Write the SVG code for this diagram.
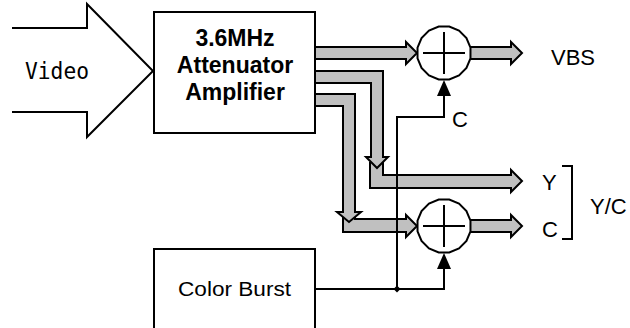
<svg xmlns="http://www.w3.org/2000/svg" xmlns:xlink="http://www.w3.org/1999/xlink" width="630" height="328" viewBox="0 0 630 328">
<style>
.box{fill:#fff;stroke:#000;stroke-width:2}
.pipe{fill:#c0c0c0;stroke:#000;stroke-width:2;stroke-linejoin:miter}
.pfill{fill:#c0c0c0;stroke:none}
.wall{fill:none;stroke:#000;stroke-width:2}
.line{fill:none;stroke:#000;stroke-width:2}
.head{fill:#000;stroke:none}
.sum{fill:#fff;stroke:#000;stroke-width:2}
.lbl{font-family:"Liberation Sans",Arial,sans-serif;font-size:22px;fill:#000}
.bold{font-family:"Liberation Sans",Arial,sans-serif;font-size:23px;font-weight:bold;fill:#000;text-anchor:middle}
</style>
<defs>
<polygon id="poly16" points="26.48,5.27 22.45,15 15,22.45 5.27,26.48 -5.27,26.48 -15,22.45 -22.45,15 -26.48,5.27 -26.48,-5.27 -22.45,-15 -15,-22.45 -5.27,-26.48 5.27,-26.48 15,-22.45 22.45,-15 26.48,-5.27"/>
</defs>

<g id="video">
<path class="line" d="M12,28 H87 V4 L153,71 L87,137 V112 H12"/>
<text x="25" y="79" font-family="'DejaVu Sans Mono','Liberation Mono',monospace" font-size="23" textLength="64" lengthAdjust="spacingAndGlyphs">Video</text>
</g>

<g id="connectors">
<!-- pipe A to sum 1 -->
<polygon class="pipe" points="315,47 406,47 406,42 417,53 406,64 406,59 315,59"/>
<!-- VBS output -->
<polygon class="pipe" points="468,47 511,47 511,42 522,53 511,64 511,59 468,59"/>
<!-- pipe B L part to Y -->
<path class="pfill" d="M370,162 V188 H511 V192 L522,181 L511,170 V175 H383 V162 Z"/>
<path class="wall" d="M370,162 V188 H511 V192 L522,181 L511,170 V175 H383 V162"/>
<polygon class="pipe" points="315,71 383,71 383,157 388,157 377,168 366,157 371,157 371,83 315,83"/>
<!-- pipe C L part to sum 2 -->
<path class="pfill" d="M343,216 V232 H406 V237 L417,226 L406,215 V219 H355 V216 Z"/>
<path class="wall" d="M343,216 V232 H406 V237 L417,226 L406,215 V219 H355 V216"/>
<polygon class="pipe" points="315,94 355,94 355,212 361,212 349,222 337,212 343,212 343,106 315,106"/>
<!-- C output -->
<polygon class="pipe" points="468,220 511,220 511,215 522,226 511,237 511,232 468,232"/>
<!-- burst lines -->
<path class="line" d="M397,289 V117 H444 V94"/>
<polygon class="head" points="444,80 437,96 451,96"/>
<path class="line" d="M315,289 H444 V267"/>
<polygon class="head" points="444,253 437,269 451,269"/>
<polygon class="head" points="397,285.5 400.5,289 397,292.5 393.5,289"/>
</g>

<g id="amp">
<rect class="box" x="154" y="12" width="161" height="121"/>
<text class="bold" x="235" y="46">3.6MHz</text>
<text class="bold" x="235" y="73">Attenuator</text>
<text class="bold" x="235" y="100">Amplifier</text>
</g>

<g id="sum1">
<use xlink:href="#poly16" href="#poly16" class="sum" transform="translate(444,53)"/>
<path class="line" d="M423,53 H465 M444,32 V74"/>
</g>

<g id="sum2">
<use xlink:href="#poly16" href="#poly16" class="sum" transform="translate(444,226)"/>
<path class="line" d="M423,226 H465 M444,205 V247"/>
</g>

<g id="burst">
<rect class="box" x="154" y="249" width="161" height="90"/>
<text x="178" y="296" font-family="'Liberation Sans',Arial,sans-serif" font-size="20" textLength="113" lengthAdjust="spacingAndGlyphs">Color Burst</text>
</g>

<g id="labels">
<text class="lbl" x="551" y="65">VBS</text>
<text class="lbl" x="452" y="127">C</text>
<text class="lbl" x="542" y="190">Y</text>
<text class="lbl" x="542" y="237">C</text>
<text class="lbl" x="590" y="214">Y/C</text>
<path class="line" d="M562,166 H572 V239 H562"/>
</g>
</svg>
